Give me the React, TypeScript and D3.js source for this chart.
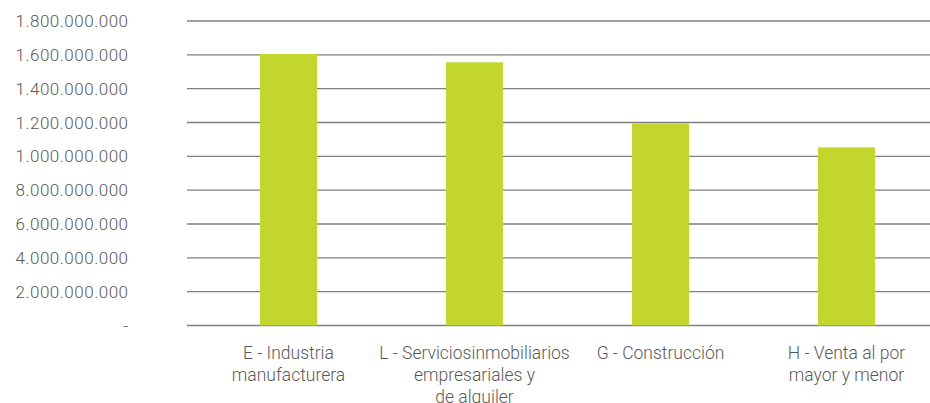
import React from "react";
import * as d3 from "d3";

const categories: string[][] = [
  ["E - Industria", "manufacturera"],
  ["L - Serviciosinmobiliarios", "empresariales y", "de alquiler"],
  ["G - Construcción"],
  ["H - Venta al por", "mayor y menor"],
];
const values: number[] = [1605000000, 1556000000, 1195000000, 1053000000];
const tickValues: number[] = [0, 200000000, 400000000, 600000000, 800000000, 1000000000, 1200000000, 1400000000, 1600000000, 1800000000];
const tickLabels: string[] = ["-", "2.000.000.000", "4.000.000.000", "6.000.000.000", "8.000.000.000", "1.000.000.000", "1.200.000.000", "1.400.000.000", "1.600.000.000", "1.800.000.000"];

const W = 930, H = 403;
const gridLeft = 187, gridRight = 930, top = 21, bottom = 325.5;

export default function App() {
  const x = d3.scaleBand<number>().domain(d3.range(values.length)).range([195.5, 939.5]).paddingInner(0.6935).paddingOuter(0.34675);
  const y = d3.scaleLinear().domain([0, 1800000000]).range([bottom, top]);
  const font = "Roboto, 'Noto Sans', sans-serif";
  return (
    <svg width={W} height={H} style={{ position: "absolute", left: 0, top: 0 }}>
      <rect width={W} height={H} fill="#fff" />
      {tickValues.map((t, i) => (
        <g key={i}>
          <line x1={gridLeft} x2={gridRight} y1={y(t)} y2={y(t)} stroke="#7f7f7f" strokeWidth={1.3} />
          <text x={128.5} y={y(t) + 6} textAnchor="end" fontFamily={font} fontWeight={300} fontSize={17} letterSpacing={0.5} fill="#595959">{tickLabels[i]}</text>
        </g>
      ))}
      {values.map((v, i) => (
        <rect key={i} x={x(i)} y={y(v)} width={x.bandwidth()} height={y(0) - y(v)} fill="#c2d62e" />
      ))}
      {categories.map((lines, i) => (
        <text key={i} textAnchor="middle" fontFamily={font} fontWeight={300} fontSize={17.5} fill="#595959">
          {lines.map((l, j) => (
            <tspan key={j} x={(x(i) as number) + x.bandwidth() / 2} y={358.5 + j * 22}>{l}</tspan>
          ))}
        </text>
      ))}
    </svg>
  );
}
